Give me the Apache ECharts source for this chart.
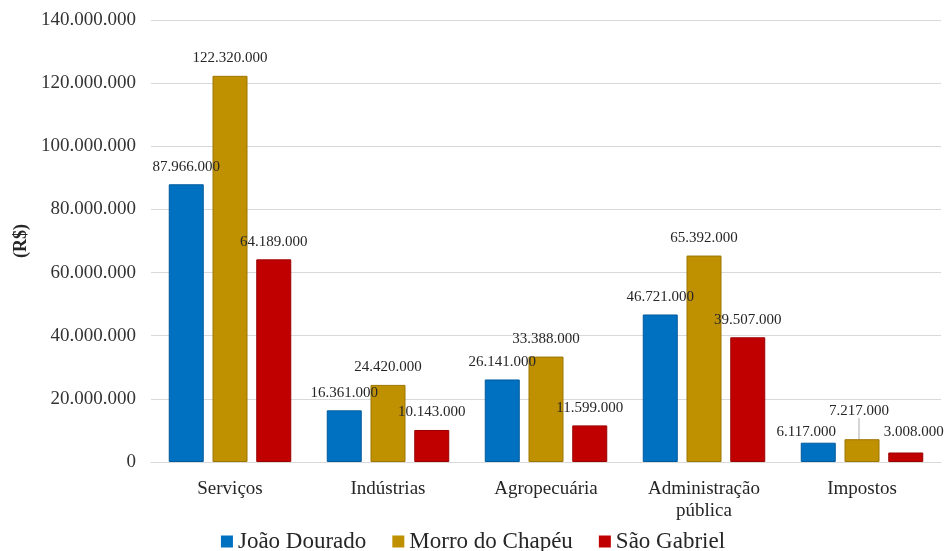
<!DOCTYPE html>
<html>
<head>
<meta charset="utf-8">
<script src="https://cdn.jsdelivr.net/npm/echarts@6/dist/echarts.min.js"></script>
<style>html,body{margin:0;padding:0;background:#fff;}#c{width:946px;height:551px;}</style>
</head>
<body>
<div id="c"></div>
<script>
const categories = ['Serviços', 'Indústrias', 'Agropecuária', 'Administração\npública', 'Impostos'];
const seriesNames = ['João Dourado', 'Morro do Chapéu', 'São Gabriel'];
const joaoDourado = [87966000, 16361000, 26141000, 46721000, 6117000];
const morroDoChapeu = [122320000, 24420000, 33388000, 65392000, 7217000];
const saoGabriel = [64189000, 10143000, 11599000, 39507000, 3008000];
const yTicks = { min: 0, max: 140000000, interval: 20000000 };

const colors = ['#0070C0', '#BF9000', '#C00000'];
const borders = ['#005a9c', '#9c7600', '#9a0000'];
// label nudges for the crowded last category (style, not data)
const nudges = [[-12, 7], [-3, -11], [8, -3]];

function fmt(v) {
  return String(Math.round(v)).replace(/\B(?=(\d{3})+(?!\d))/g, '.');
}

const font = 'Liberation Serif';
const values = [joaoDourado, morroDoChapeu, saoGabriel];

const series = values.map((vals, s) => ({
  name: seriesNames[s],
  type: 'bar',
  barWidth: 35,
  barGap: '25%',
  data: vals.map((v, i) => (s === 1 && i === 4) ? { value: v, labelLine: { show: true, lineStyle: { color: '#aaa', width: 1 } } } : v),
  itemStyle: { color: colors[s], borderColor: borders[s], borderWidth: 1 },
  label: {
    show: true, position: 'top', distance: 10,
    fontFamily: font, fontSize: 15, color: '#262626',
    formatter: p => fmt(p.value)
  },
  labelLine: { show: false },
  labelLayout: function (params) {
    if (params.dataIndex === 4) return { dx: nudges[s][0], dy: nudges[s][1] };
    return {};
  }
}));

const chart = echarts.init(document.getElementById('c'));
chart.setOption({
  animation: false,
  backgroundColor: '#fff',
  grid: { left: 151, right: 5, top: 20, bottom: 89, containLabel: false },
  legend: {
    data: seriesNames,
    left: 'center', top: 525,
    itemWidth: 12, itemHeight: 12, itemGap: 26, icon: 'rect',
    itemStyle: { borderWidth: 0 },
    textStyle: { fontFamily: font, fontSize: 23, color: '#262626' }
  },
  xAxis: {
    type: 'category',
    data: categories,
    axisLine: { lineStyle: { color: '#d9d9d9' } },
    axisTick: { show: false },
    axisLabel: { fontFamily: font, fontSize: 19, color: '#262626', margin: 16, lineHeight: 22 }
  },
  yAxis: {
    type: 'value',
    min: yTicks.min, max: yTicks.max, interval: yTicks.interval,
    name: '(R$)', nameLocation: 'middle', nameGap: 118, nameRotate: 90,
    nameTextStyle: { fontFamily: font, fontSize: 18, fontWeight: 'bold', color: '#262626' },
    axisLine: { show: false },
    axisTick: { show: false },
    splitLine: { lineStyle: { color: '#d9d9d9' } },
    axisLabel: { fontFamily: font, fontSize: 19, color: '#333', margin: 15, formatter: v => fmt(v) }
  },
  series: series
});
</script>
</body>
</html>
